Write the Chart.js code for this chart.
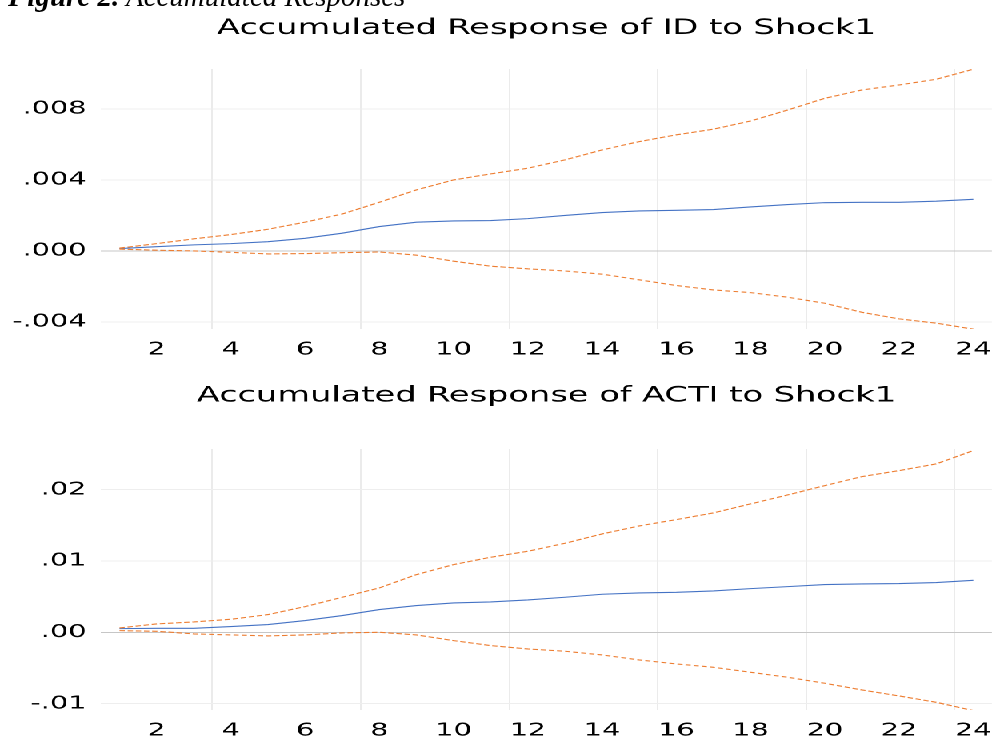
<!DOCTYPE html>
<html>
<head>
<meta charset="utf-8">
<script src="https://cdn.jsdelivr.net/npm/chart.js@4.4.1/dist/chart.umd.min.js"></script>
<style>
  html, body { margin: 0; padding: 0; background: #fff; width: 1008px; height: 737px; overflow: hidden; position: relative; }
  .cap { position: absolute; left: 8px; top: -18px; font: italic 29px/29px "Liberation Serif", serif; white-space: nowrap; color: #000; z-index: 2; }
  .cap b { font-weight: bold; }
  /* the source graph is stretched sideways, so the whole chart block is too */
  .wrap { position: absolute; left: 0; top: 0; width: 630px; transform: scaleX(1.6); transform-origin: 0 0; }
  .wrap canvas { display: block; }
</style>
</head>
<body>
<div class="cap"><b>Figure 2.</b> Accumulated Responses</div>
<div class="wrap">
  <canvas id="chart-id" width="630" height="360"></canvas>
  <canvas id="chart-acti" width="630" height="377"></canvas>
</div>
<script>
// 期数
const periods = [1,2,3,4,5,6,7,8,9,10,11,12,13,14,15,16,17,18,19,20,21,22,23,24];
const xLabelTicks = [2,4,6,8,10,12,14,16,18,20,22,24];
const xGridTicks = [3.5,7.5,11.5,15.5,19.5,23.5];

// Accumulated Response of ID to Shock1
const idResp  = [0.00013,0.00024,0.00034,0.00041,0.00052,0.00071,0.00100,0.00137,0.00162,0.00169,0.00171,0.00182,0.00200,0.00216,0.00225,0.00229,0.00233,0.00248,0.00261,0.00272,0.00274,0.00274,0.00280,0.00291];
const idUpper = [0.00016,0.00041,0.00068,0.00092,0.00122,0.00162,0.00208,0.00274,0.00344,0.00400,0.00434,0.00466,0.00513,0.00569,0.00616,0.00654,0.00686,0.00732,0.00794,0.00860,0.00907,0.00935,0.00967,0.01024];
const idLower = [0.00010,0.00004,0.00000,-0.00008,-0.00017,-0.00015,-0.00010,-0.00006,-0.00024,-0.00058,-0.00086,-0.00101,-0.00113,-0.00131,-0.00163,-0.00195,-0.00220,-0.00235,-0.00261,-0.00295,-0.00346,-0.00383,-0.00407,-0.00441];
const idTicks = [-0.004, 0, 0.004, 0.008];
const idTickLabels = ['-.004', '.000', '.004', '.008'];

// Accumulated Response of ACTI to Shock1
const actiResp  = [0.00051,0.00056,0.00056,0.00080,0.00108,0.00164,0.00234,0.00318,0.00374,0.00411,0.00425,0.00453,0.00491,0.00533,0.00552,0.00561,0.00580,0.00612,0.00640,0.00669,0.00678,0.00683,0.00697,0.00729];
const actiUpper = [0.00061,0.00117,0.00145,0.00182,0.00248,0.00360,0.00491,0.00622,0.00809,0.00949,0.01052,0.01136,0.01248,0.01379,0.01491,0.01580,0.01674,0.01800,0.01926,0.02057,0.02183,0.02267,0.02361,0.02548];
const actiLower = [0.00023,0.00014,-0.00023,-0.00037,-0.00051,-0.00037,-0.00009,0.00000,-0.00037,-0.00117,-0.00187,-0.00234,-0.00266,-0.00318,-0.00388,-0.00444,-0.00491,-0.00561,-0.00631,-0.00715,-0.00809,-0.00893,-0.00982,-0.01099];
const actiTicks = [-0.01, 0, 0.01, 0.02];
const actiTickLabels = ['-.01', '.00', '.01', '.02'];

const FONT = 'DejaVu Sans';
const xTicksAll = xLabelTicks.concat(xGridTicks).sort((a, b) => a - b);

function pts(vals) {
  return periods.map((p, i) => ({ x: p, y: vals[i] }));
}

function band(label, vals) {
  return {
    label, data: pts(vals),
    borderColor: '#ed7d31', borderWidth: 1.1, borderDash: [3.3, 1.8],
    pointRadius: 0, fill: false, tension: 0
  };
}

// 画一张响应图
function makeChart(canvasId, title, resp, upper, lower, yTicks, yLabels, yMin, yMax, padTop, padBottom, xHeight) {
  const ctx = document.getElementById(canvasId).getContext('2d');
  return new Chart(ctx, {
    type: 'line',
    data: {
      datasets: [
        band('upper', upper),
        band('lower', lower),
        {
          label: 'response', data: pts(resp),
          borderColor: '#4472c4', borderWidth: 1.1,
          pointRadius: 0, fill: false, tension: 0
        }
      ]
    },
    options: {
      responsive: false,
      animation: false,
      devicePixelRatio: 2,
      layout: { padding: { left: 0, right: 1.25, top: 0, bottom: 0 } },
      plugins: {
        legend: { display: false },
        tooltip: { enabled: false },
        title: {
          display: true, text: title, color: '#000', fullSize: false,
          font: { family: FONT, size: 21, weight: 'normal' },
          padding: { top: padTop, bottom: padBottom }
        }
      },
      scales: {
        x: {
          type: 'linear', min: 0.5, max: 24.5,
          afterBuildTicks: s => { s.ticks = xTicksAll.map(v => ({ value: v })); },
          afterFit: s => { s.height = xHeight; },
          ticks: {
            autoSkip: false, maxRotation: 0, padding: 10, color: '#000',
            font: { family: FONT, size: 18 },
            callback: v => Number.isInteger(v) ? String(v) : ''
          },
          grid: {
            drawTicks: false,
            color: c => (c.tick && Number.isInteger(c.tick.value)) ? 'rgba(0,0,0,0)' : '#ebebeb'
          },
          border: { display: false }
        },
        y: {
          min: yMin, max: yMax,
          afterBuildTicks: s => { s.ticks = yTicks.map(v => ({ value: v })); },
          afterFit: s => { s.width = 63.1; },
          ticks: {
            padding: 9, color: '#000',
            font: { family: FONT, size: 18 },
            callback: (v, i) => yLabels[i]
          },
          grid: {
            drawTicks: false,
            color: c => (c.tick && c.tick.value === 0) ? '#c6c6c6' : '#eeeeee'
          },
          border: { display: false }
        }
      }
    }
  });
}

makeChart('chart-id', 'Accumulated Response of ID to Shock1',
  idResp, idUpper, idLower, idTicks, idTickLabels, -0.0044, 0.01025, 16, 27.8, 31);
makeChart('chart-acti', 'Accumulated Response of ACTI to Shock1',
  actiResp, actiUpper, actiLower, actiTicks, actiTickLabels, -0.0109, 0.0257, 23.4, 40.4, 27);
</script>
</body>
</html>
